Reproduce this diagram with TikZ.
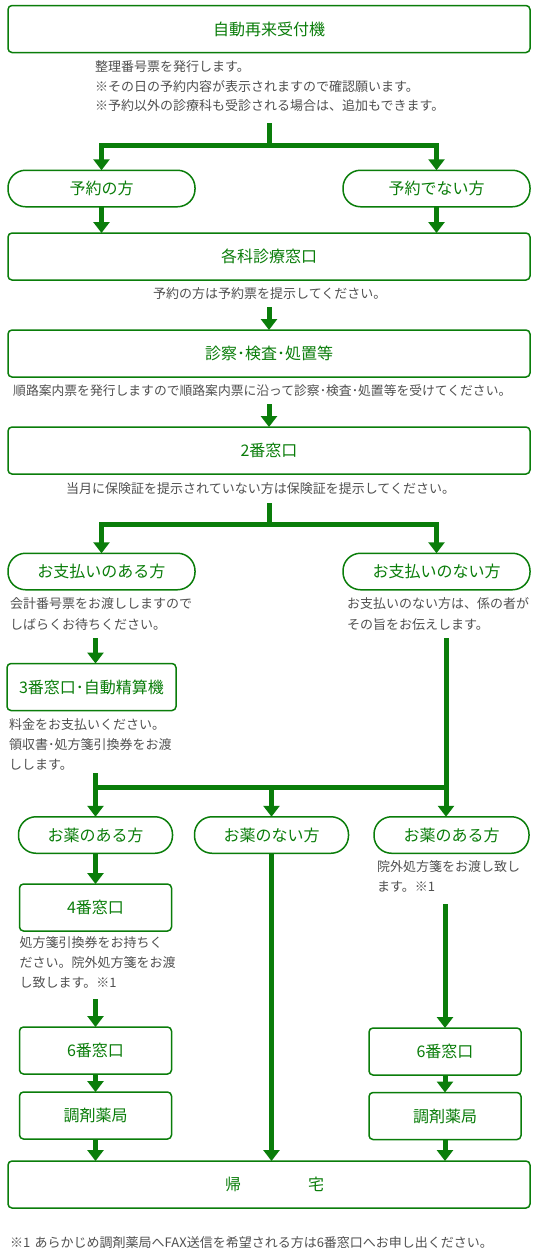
\documentclass[tikz,border=0pt]{standalone}
\usepackage{fontspec}
\setmainfont{Noto Sans CJK JP}
\usetikzlibrary{arrows.meta}
\definecolor{G}{RGB}{10,125,10}
\definecolor{T}{RGB}{80,80,80}
\begin{document}
\begin{tikzpicture}[x=1pt,y=-1pt,
  box/.style={draw=G, line width=1.5pt, rounded corners=4pt, text=G,
    font=\fontsize{16}{19}\selectfont, inner sep=0pt, outer sep=0pt,
    minimum height=47pt, fill=white},
  pill/.style={box, rounded corners=17.5pt, minimum height=36.5pt},
  note/.style={text=T, font=\fontsize{13}{20}\selectfont, anchor=base west,
    inner sep=0pt, text width=520pt, align=left},
  arr/.style={draw=G, line width=5pt, -{Triangle[width=16pt,length=11pt]}},
  ln/.style={draw=G, line width=5pt},
]
\fill[white] (0,0) rectangle (538,1259);
\useasboundingbox (0,0) rectangle (538,1259);

% top
\node[box, minimum width=522pt] (b1) at (269,29) {自動再来受付機};
\node[note, font=\fontsize{13}{19.5}\selectfont] (n1) at (95,71.8)
  {整理番号票を発行します。\\※その日の予約内容が表示されますので確認願います。\\※予約以外の診療科も受診される場合は、追加もできます。};
\coordinate (t1) at (269,123);
\coordinate (j1) at (269,145);
\node[pill, minimum width=187pt] (p1) at (101.5,188.5) {予約の方};
\node[pill, minimum width=187pt] (p2) at (436.5,188.5) {予約でない方};
\draw[ln] (t1) -- (j1);
\draw[arr] (j1) -| (p1.north);
\draw[arr] (j1) -| (p2.north);

\node[box, minimum width=522pt] (b2) at (269,256.5) {各科診療窓口};
\draw[arr] (p1.south) -- (p1.south |- b2.north);
\draw[arr] (p2.south) -- (p2.south |- b2.north);
\node[note] (n2) at (153,298.8) {予約の方は予約票を提示してください。};

\coordinate (t2) at (269,307);
\node[box, minimum width=522pt] (b3) at (269,353.5) {診察･検査･処置等};
\draw[arr] (t2) -- (b3.north);
\node[note, font=\fontsize{12.8}{20}\selectfont] (n3) at (13,395.8)
  {順路案内票を発行しますので順路案内票に沿って診察･検査･処置等を受けてください。};

\coordinate (t3) at (269,404);
\node[box, minimum width=522pt] (b4) at (269,450.5) {2番窓口};
\draw[arr] (t3) -- (b4.north);
\node[note] (n4) at (66,493.8) {当月に保険証を提示されていない方は保険証を提示してください。};

% payment fork
\coordinate (t4) at (269,503);
\coordinate (j4) at (269,524);
\node[pill, minimum width=187pt] (p3) at (101.5,571.5) {お支払いのある方};
\node[pill, minimum width=187pt] (p4) at (436.5,571.5) {お支払いのない方};
\draw[ln] (t4) -- (j4);
\draw[arr] (j4) -| (p3.north);
\draw[arr] (j4) -| (p4.north);
\node[note, font=\fontsize{13}{21}\selectfont] (n5) at (10,608.8)
  {会計番号票をお渡ししますので\\しばらくお待ちください。};
\node[note, font=\fontsize{13}{21}\selectfont] (n6) at (347,608.8)
  {お支払いのない方は、係の者が\\その旨をお伝えします。};

\coordinate (s5) at (95.5,638);
\node[box, minimum width=169pt] (b5) at (91.5,687) {3番窓口･自動精算機};
\draw[arr] (s5) -- (b5.north -| s5);
\node[note, font=\fontsize{13}{20}\selectfont] (n7) at (9,729.8)
  {料金をお支払いください。\\領収書･処方箋引換券をお渡\\しします。};

% medicine fork
\coordinate (s6) at (95.5,773);
\coordinate (j6a) at (95.5,787);
\coordinate (j6b) at (271.5,787);
\coordinate (j6c) at (446,787);
\coordinate (s7) at (446,638);
\node[pill, minimum width=154pt] (q1) at (95.5,835) {お薬のある方};
\node[pill, minimum width=154pt] (q2) at (271.5,835) {お薬のない方};
\node[pill, minimum width=155pt] (q3) at (451.5,835) {お薬のある方};
\draw[ln] (s7) -- (j6c) -- (j6a);
\draw[arr] (s6) -- (q1.north -| s6);
\draw[arr] (j6b) -- (q2.north -| j6b);
\draw[arr] (j6c) -- (q3.north -| j6c);
\node[note, font=\fontsize{13}{19.5}\selectfont] (n8) at (377,871.8)
  {院外処方箋をお渡し致し\\ます。※1};

% left column
\node[box, minimum width=152pt] (b6) at (95.5,907.5) {4番窓口};
\draw[arr] (q1.south) -- (b6.north);
\node[note, font=\fontsize{13}{20}\selectfont] (n9) at (19.5,947.8)
  {処方箋引換券をお持ちく\\ださい。院外処方箋をお渡\\し致します。※1};
\coordinate (s9) at (95.5,999);
\node[box, minimum width=152pt] (b7) at (95.5,1050.5) {6番窓口};
\draw[arr] (s9) -- (b7.north);
\node[box, minimum width=152pt] (b8) at (95.5,1115.5) {調剤薬局};
\draw[arr] (b7.south) -- (b8.north);

% right column
\coordinate (s10) at (445,904);
\node[box, minimum width=152pt] (b9) at (445,1051.5) {6番窓口};
\draw[arr] (s10) -- (b9.north);
\node[box, minimum width=152pt] (b10) at (445,1116) {調剤薬局};
\draw[arr] (b9.south) -- (b10.north);

% home
\node[box, minimum width=522pt] (b11) at (269,1184.5) {\hspace{11pt}帰\hspace{67pt}宅};
\draw[arr] (b8.south) -- (b8.south |- b11.north);
\draw[arr] (q2.south) -- (q2.south |- b11.north);
\draw[arr] (b10.south) -- (b10.south |- b11.north);

\node[note] (fn) at (10,1247.8)
  {※1 あらかじめ調剤薬局へFAX送信を希望される方は6番窓口へお申し出ください。};
\end{tikzpicture}
\end{document}
